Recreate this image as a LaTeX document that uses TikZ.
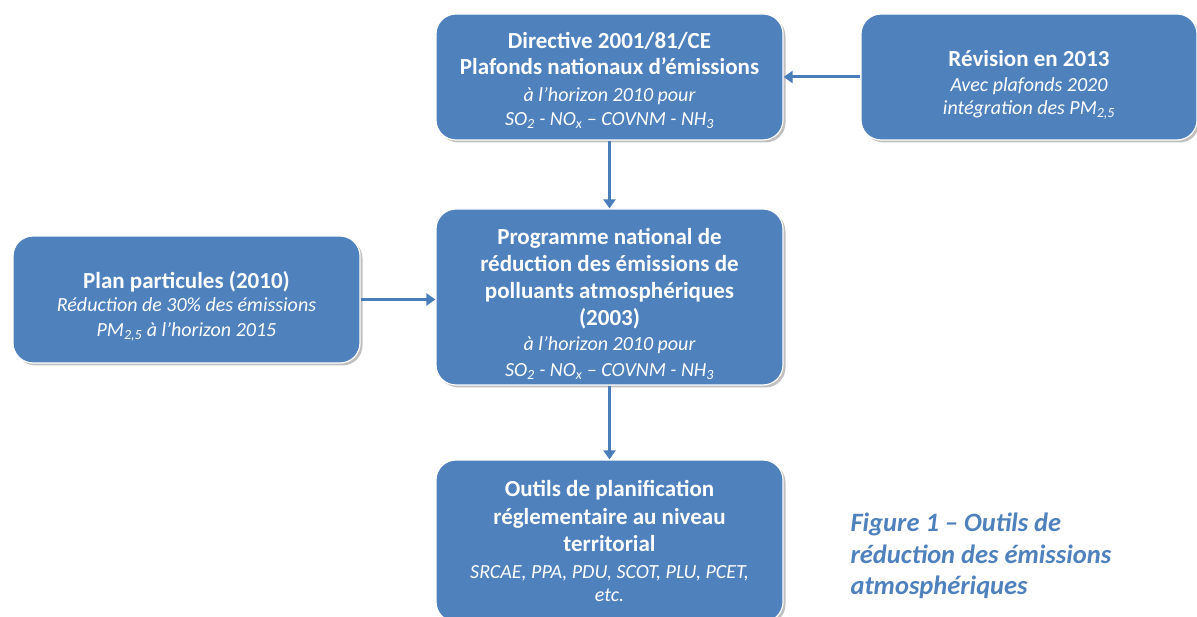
\documentclass[tikz,border=0pt]{standalone}
\usepackage{fontspec}
\setmainfont{Carlito}
\usetikzlibrary{shadows,arrows.meta}
\definecolor{boxblue}{HTML}{4F81BD}
\definecolor{arrowblue}{HTML}{4A7EBB}
\newcommand{\ttl}{\fontsize{23}{27}\selectfont\bfseries}
\newcommand{\sub}{\fontsize{20}{27}\selectfont\itshape}
\newcommand{\topstrut}[1]{\rule{0pt}{#1}}
\tikzset{
  box/.style={draw=white, line width=1.2pt, fill=boxblue, rounded corners=20pt,
    text=white, align=center, inner sep=0pt, font=\fontsize{23}{27}\selectfont,
    drop shadow={shadow xshift=2.5pt, shadow yshift=-2.5pt, fill=black!55, opacity=.45}},
  conn/.style={draw=arrowblue, line width=3pt, -{Triangle[length=9pt,width=12pt]}},
  caption/.style={text=boxblue, align=left, anchor=west,
    font=\fontsize{26.5}{31.5}\selectfont\bfseries\itshape}
}
\begin{document}
\begin{tikzpicture}[x=1pt,y=-1pt]
\useasboundingbox (0,0) rectangle (1197,617);
\node[box, minimum width=347pt, minimum height=126pt] (dir) at (609.5,77)
  {{\ttl\topstrut{23pt}Directive 2001/81/CE}\\[-1pt]{\ttl Plafonds nationaux d’émissions}\\
   {\sub à l’horizon 2010 pour}\\[-3pt]{\sub SO\textsubscript{2} - NO\textsubscript{x} – COVNM - NH\textsubscript{3}}};
\node[box, minimum width=336pt, minimum height=126pt] (rev) at (1029,77)
  {{\ttl\topstrut{31pt}Révision en 2013}\\[-2pt]{\sub Avec plafonds 2020}\\[-4pt]{\sub intégration des PM\textsubscript{2,5}}};
\node[box, minimum width=347pt, minimum height=127pt] (plan) at (186.5,299.5)
  {{\ttl\topstrut{30pt}Plan particules (2010)}\\[-4pt]{\sub Réduction de 30\% des émissions}\\[-2pt]{\sub PM\textsubscript{2,5} à l’horizon 2015}};
\node[box, minimum width=347pt, minimum height=176pt] (prog) at (609.5,297)
  {{\ttl\topstrut{30pt}Programme national de}\\{\ttl réduction des émissions de}\\{\ttl polluants atmosphériques}\\{\ttl (2003)}\\[-2pt]
   {\sub à l’horizon 2010 pour}\\[-1pt]{\sub SO\textsubscript{2} - NO\textsubscript{x} – COVNM - NH\textsubscript{3}}};
\node[box, minimum width=347pt, minimum height=162pt] (out) at (609.5,541)
  {{\ttl Outils de planification}\\[1pt]{\ttl réglementaire au niveau}\\{\ttl territorial}\\
   {\sub SRCAE, PPA, PDU, SCOT, PLU, PCET,}\\[-4pt]{\sub etc.}};
\node[caption] (cap) at (847,556) {Figure 1 – Outils de\\réduction des émissions\\atmosphériques};
\draw[conn] (rev.west) -- (dir.east);
\draw[conn] (dir.south) -- (prog.north);
\draw[conn] (plan.east) -- (plan.east -| prog.west);
\draw[conn] (prog.south) -- (out.north);
\end{tikzpicture}
\end{document}
